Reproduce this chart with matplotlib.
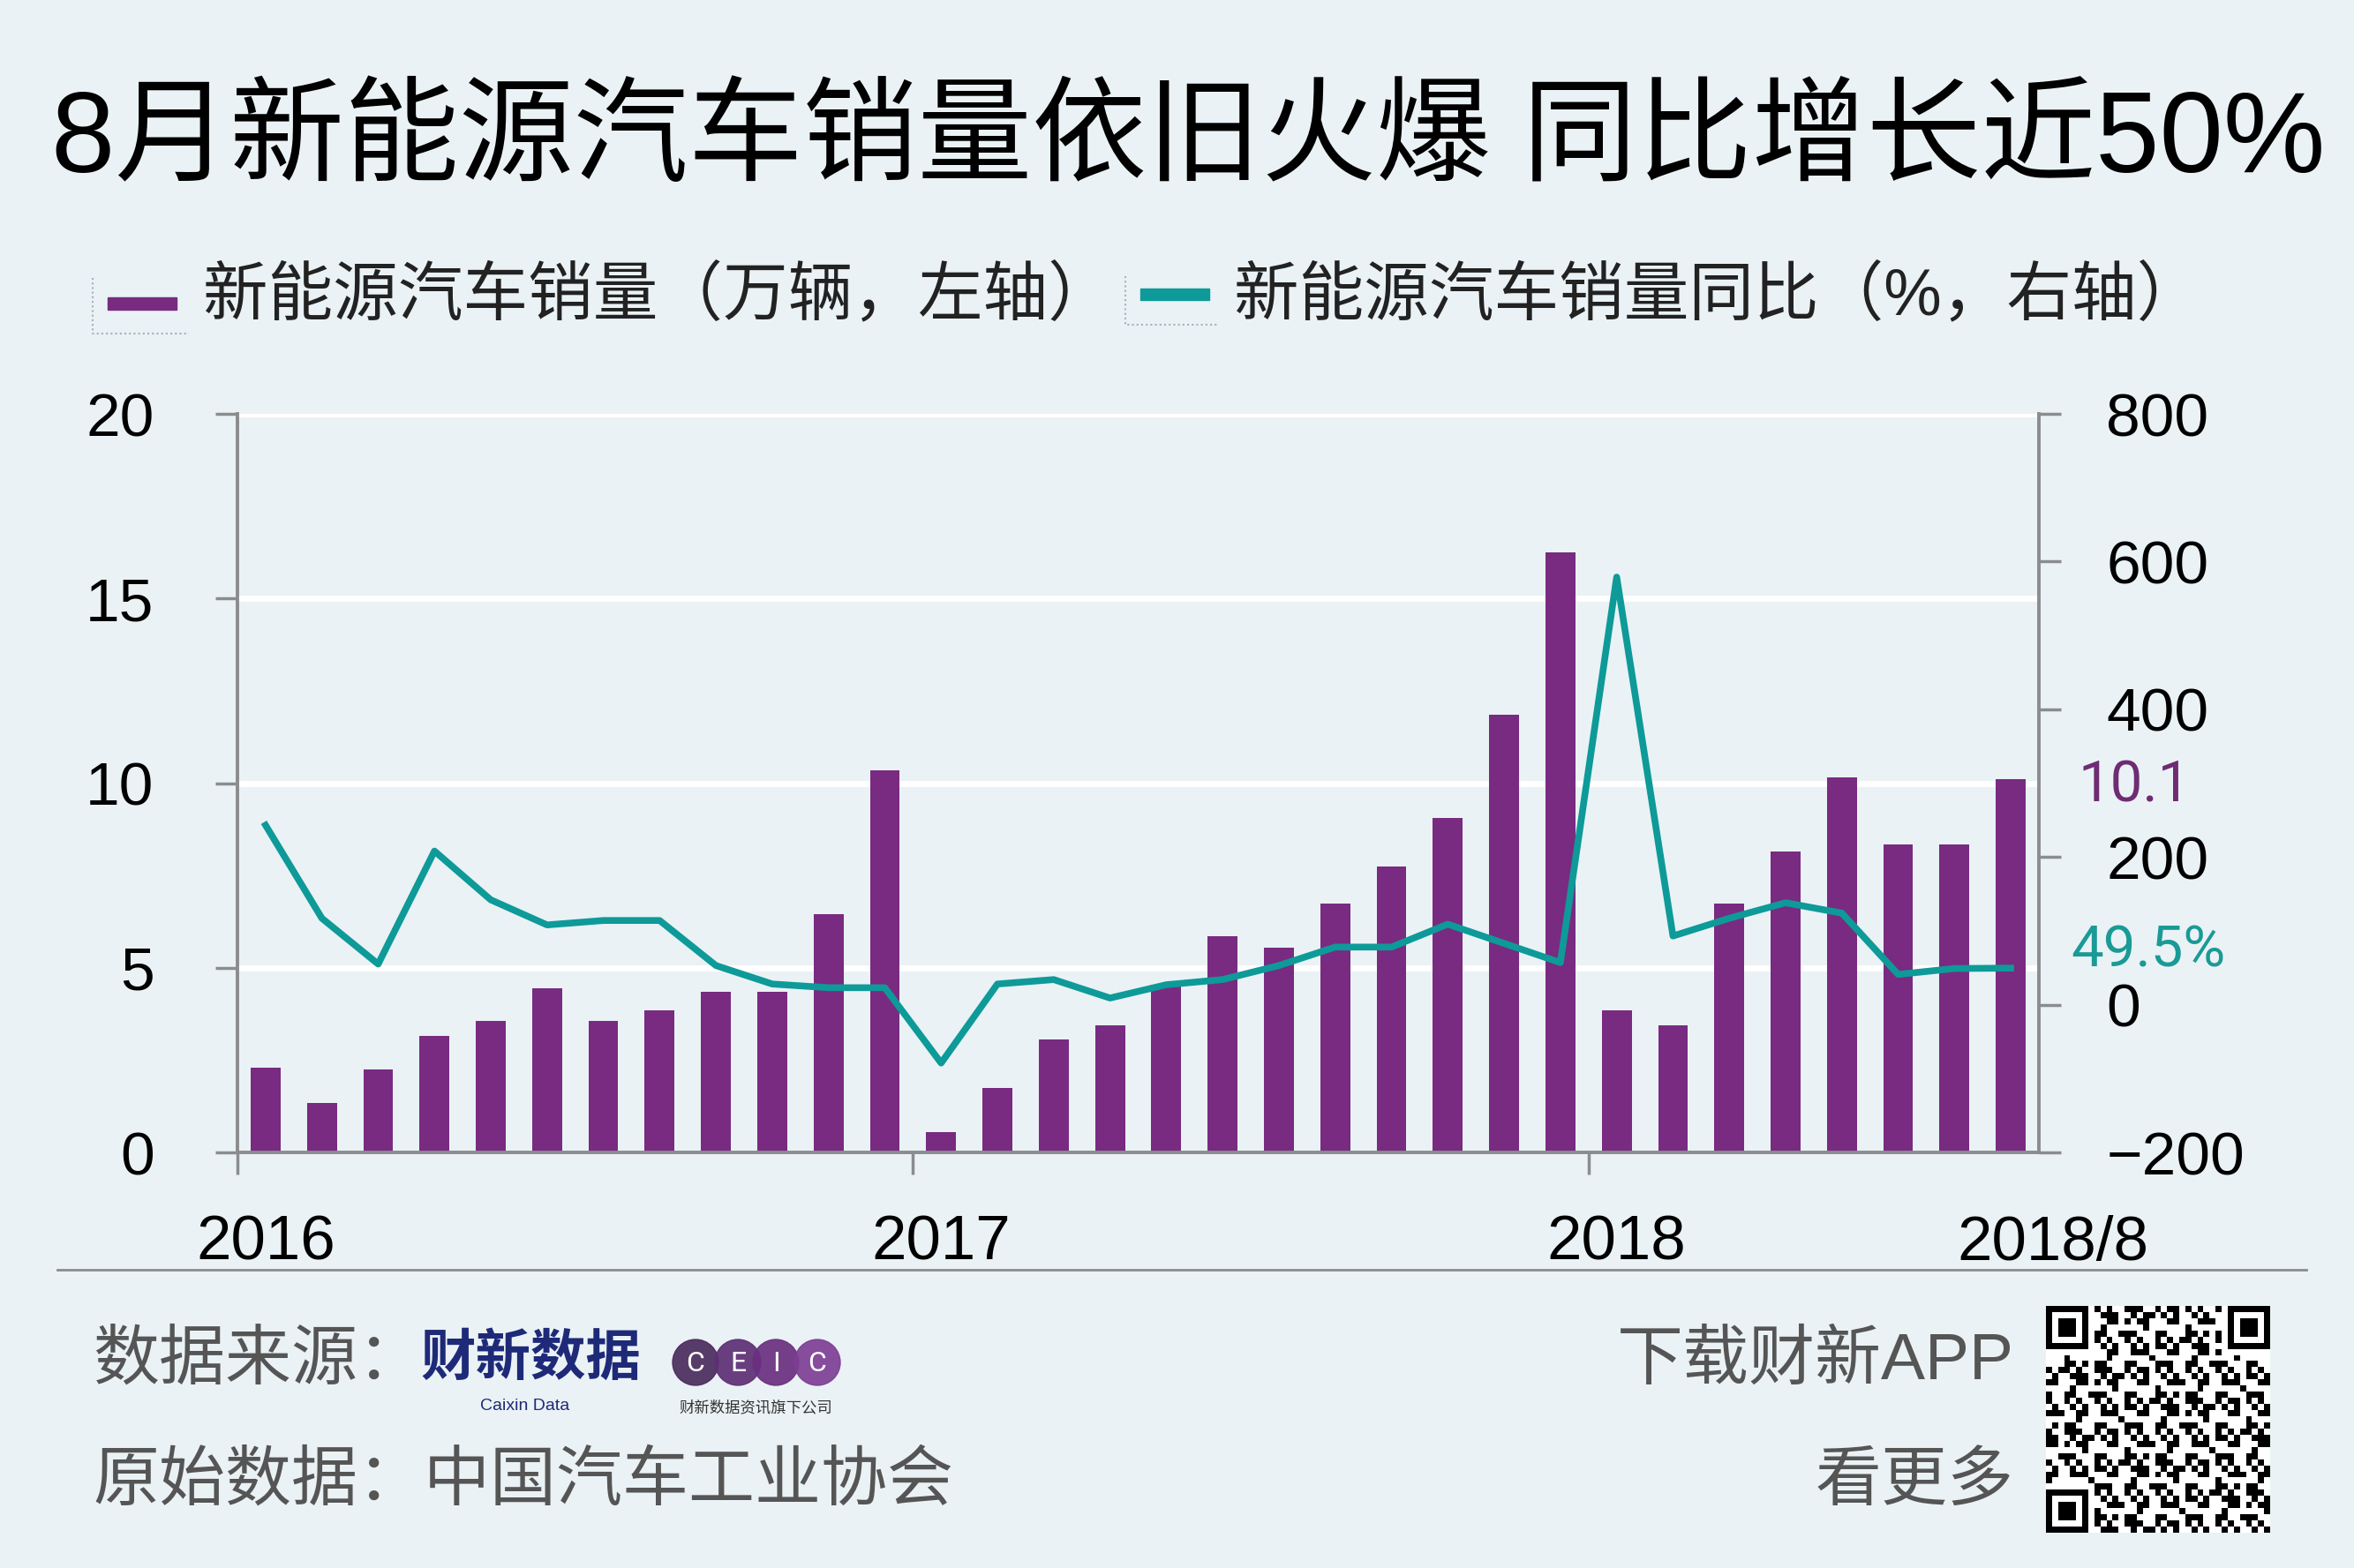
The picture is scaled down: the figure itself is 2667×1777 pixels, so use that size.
import numpy as np
import matplotlib
matplotlib.use("Agg")
import matplotlib.pyplot as plt
from matplotlib.patches import Rectangle, Circle
from matplotlib.lines import Line2D

plt.rcParams['font.family'] = ['Liberation Sans', 'Noto Sans CJK SC']
plt.rcParams['axes.unicode_minus'] = True

# data: monthly NEV sales (10k units) and yoy growth (%), 2016/1 - 2018/8
sales = [2.3, 1.35, 2.25, 3.15, 3.55, 4.45, 3.55, 3.85, 4.35, 4.35, 6.45, 10.35,
         0.55, 1.75, 3.05, 3.45, 4.55, 5.85, 5.55, 6.75, 7.75, 9.05, 11.85, 16.25,
         3.85, 3.45, 6.75, 8.15, 10.15, 8.35, 8.35, 10.1]
yoy = [243, 117, 55, 208, 142, 108, 114, 114, 53, 28, 23, 23,
       -79, 28, 34, 9, 27, 34, 53, 78, 78, 109, 83, 57,
       579, 93, 117, 138, 124, 41, 49, 49.5]
year_labels = ['2016', '2017', '2018', '2018/8']
year_label_idx = [0, 12, 24, 31.75]
year_tick_idx = [-0.5, 11.5, 23.5]

BG = '#EAF2F5'
PURPLE = '#782B80'
TEAL = '#0E9A98'
GRAY = '#8A8C8E'
W, H = 2667, 1777

fig = plt.figure(figsize=(W / 100, H / 100), dpi=100, facecolor=BG)

ax = fig.add_axes([269 / W, 1 - 1306 / H, (2310 - 269) / W, (1306 - 469) / H])
ax.set_facecolor('none')
x = np.arange(len(sales))

for g in [5, 10, 15, 20]:
    ax.axhline(g, color='white', lw=5, zorder=0)
ax.bar(x, sales, width=0.53, color=PURPLE, zorder=2)
ax.set_xlim(-0.5, 31.5)
ax.set_ylim(0, 20)
ax.set_yticks([0, 5, 10, 15, 20])
ax.set_xticks(year_tick_idx)
ax.set_xticklabels([])
for s in ['top', 'right']:
    ax.spines[s].set_visible(False)
for s in ['left', 'bottom']:
    ax.spines[s].set_color(GRAY)
    ax.spines[s].set_linewidth(2.8)
ax.tick_params(axis='y', length=18, width=2.5, color=GRAY, pad=50, labelsize=50)
ax.tick_params(axis='x', length=18, width=2.5, color=GRAY)

for lab, xi in zip(year_labels, year_label_idx):
    ax.text(xi, -0.124, lab, transform=ax.get_xaxis_transform(), ha='center',
            va='center', fontsize=51, color='black')

ax2 = ax.twinx()
ax2.set_facecolor('none')
ax2.plot(x, yoy, color=TEAL, lw=5.5, zorder=3)
ax2.set_ylim(-200, 800)
ax2.set_yticks([-200, 0, 200, 400, 600, 800])
for s in ['top', 'left', 'bottom']:
    ax2.spines[s].set_visible(False)
ax2.spines['right'].set_color(GRAY)
ax2.spines['right'].set_linewidth(2.8)
ax2.tick_params(axis='y', length=18, width=2.5, color=GRAY, pad=37, labelsize=50)

# end-value labels
ax.annotate(f'{sales[-1]:.1f}', xy=(x[-1], sales[-1]), xytext=(76, -7),
            textcoords='offset pixels', ha='left', va='center', fontsize=47,
            family='Roboto', color='#6E2C73', annotation_clip=False)
ax2.annotate(f'{yoy[-1]}%', xy=(x[-1], yoy[-1]), xytext=(68, 20),
             textcoords='offset pixels', ha='left', va='center', fontsize=47,
             family='Roboto', color='#1A9A96', annotation_clip=False)

# overlay in pixel coordinates for title, legend, footer
ov = fig.add_axes([0, 0, 1, 1])
ov.set_facecolor('none')
ov.axis('off')

ov.text(58, 162, '8月新能源汽车销量依旧火爆 同比增长近50%', fontsize=93.5,
        ha='left', va='center', color='black')

# legend
ov.add_patch(Rectangle((122, 337), 78, 14, color=PURPLE))
ov.text(230, 336, '新能源汽车销量（万辆，左轴）', fontsize=53, ha='left',
        va='center', color='#222222')
ov.add_patch(Rectangle((1292, 327), 78, 13, color=TEAL))
ov.text(1398, 336, '新能源汽车销量同比（%，右轴）', fontsize=53, ha='left',
        va='center', color='#222222')
for x0, y0, y1, x1 in [(105, 315, 378, 214), (1275, 313, 368, 1381)]:
    ov.add_line(Line2D([x0, x0, x1], [y0, y1, y1], color='#A8B0B8', lw=1.5,
                       ls=(0, (1, 1.5))))

# separator
ov.add_line(Line2D([65, 2613], [1439, 1439], color=GRAY, lw=2))

# footer
ov.text(105, 1543, '数据来源：', fontsize=54, ha='left', va='center',
        color='#555555', fontweight='light')
ov.text(601, 1541, '财新数据', fontsize=45, ha='center', va='center',
        color='#1E2A78', fontweight='heavy')
ov.text(595, 1594, 'Caixin Data', fontsize=14, ha='center', va='center',
        color='#1E2A78')
ceic_cols = ['#4A2C5E', '#5E2F75', '#6B2F80', '#7D3F94']
for cx, col, ch in zip([788, 836, 879, 926], ceic_cols, 'CEIC'):
    ov.add_patch(Circle((cx, 1544), 26, color=col, alpha=0.92))
    ov.text(cx, 1545, ch, fontsize=23, ha='center', va='center', color='white',
            family='Roboto')
ov.text(856, 1595, '财新数据资讯旗下公司', fontsize=12.5, ha='center', va='center',
        color='#333333', family='Noto Sans CJK SC')
ov.text(105, 1680, '原始数据：中国汽车工业协会', fontsize=54, ha='left',
        va='center', color='#555555', fontweight='light')
ov.text(2282, 1543, '下载财新APP', fontsize=54, ha='right', va='center',
        color='#555555', fontweight='light')
ov.text(2282, 1680, '看更多', fontsize=54, ha='right', va='center',
        color='#555555', fontweight='light')

# QR-like block
n = 37
i, j = np.indices((n, n))
qr = (((i * j + 3 * i + 7 * j) % 5) < 2) | (((i + 2 * j) % 7) == 0)
qr = qr.astype(float)
for r, c in [(0, 0), (0, n - 7), (n - 7, 0)]:
    r0, c0 = max(r - 1, 0), max(c - 1, 0)
    qr[r0:r + 8, c0:c + 8] = 0
    qr[r:r + 7, c:c + 7] = 1
    qr[r + 1:r + 6, c + 1:c + 6] = 0
    qr[r + 2:r + 5, c + 2:c + 5] = 1
ov.imshow(qr, cmap='gray_r', extent=(2318, 2572, 1737, 1480),
          interpolation='nearest', aspect='auto')

ov.set_xlim(0, W)
ov.set_ylim(H, 0)

fig.savefig('out.png', dpi=100, facecolor=BG)
